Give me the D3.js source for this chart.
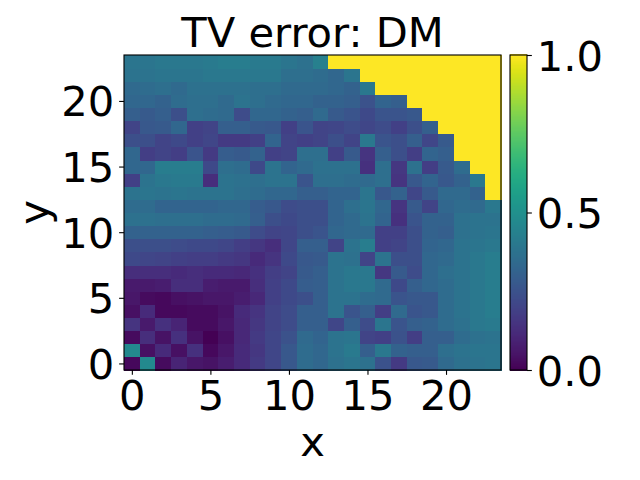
<!DOCTYPE html>
<html><head><meta charset="utf-8">
<script src="https://cdnjs.cloudflare.com/ajax/libs/d3/7.8.5/d3.min.js"></script>
<style>html,body{margin:0;padding:0;background:#fff}svg{display:block}text{font-family:"DejaVu Sans";fill:#000}</style>
</head><body><svg id="c" width="640" height="480"></svg>
<script>
const titleText = "TV error: DM";
const xLabel = "x", yLabel = "y";
const xTicks = [0,5,10,15,20];
const yTicks = [0,5,10,15,20];
const cbTicks = [0,0.5,1];
// rows listed from y = 0 upward, 24 values per row (x = 0..23)
const row0  = [.02,.47,.03,.10,.06,.05,.08,.12,.17,.21,.27,.35,.33,.37,.39,.37,.25,.17,.27,.28,.34,.37,.38,.39];
const row1  = [.47,.04,.12,.04,.14,.02,.06,.12,.16,.21,.27,.35,.33,.38,.41,.30,.40,.31,.30,.30,.36,.38,.39,.39];
const row2  = [.03,.13,.05,.14,.05,.00,.04,.11,.17,.21,.25,.34,.32,.38,.39,.20,.19,.25,.18,.30,.30,.35,.37,.38];
const row3  = [.15,.07,.14,.10,.03,.03,.06,.11,.16,.20,.23,.30,.30,.21,.30,.23,.39,.26,.30,.31,.35,.37,.40,.41];
const row4  = [.04,.12,.02,.02,.03,.03,.05,.12,.15,.20,.23,.30,.30,.38,.26,.30,.18,.34,.26,.27,.35,.38,.40,.42];
const row5  = [.06,.03,.02,.04,.05,.06,.06,.08,.11,.19,.22,.24,.30,.38,.38,.35,.34,.26,.27,.27,.35,.38,.40,.42];
const row6  = [.07,.07,.08,.13,.13,.08,.07,.07,.13,.19,.22,.29,.30,.38,.40,.40,.34,.22,.30,.33,.35,.38,.40,.42];
const row7  = [.13,.13,.13,.12,.13,.12,.12,.11,.14,.18,.20,.28,.30,.38,.40,.40,.16,.28,.23,.33,.36,.38,.40,.42];
const row8  = [.22,.21,.20,.19,.18,.18,.17,.16,.12,.15,.22,.27,.28,.38,.37,.20,.38,.24,.24,.33,.34,.38,.40,.42];
const row9  = [.24,.24,.24,.23,.22,.22,.21,.18,.16,.13,.21,.30,.30,.20,.38,.42,.19,.20,.24,.32,.33,.38,.39,.40];
const row10 = [.31,.31,.31,.31,.31,.30,.29,.28,.23,.20,.21,.24,.26,.33,.34,.34,.19,.19,.24,.31,.30,.37,.38,.39];
const row11 = [.37,.37,.36,.36,.36,.35,.35,.34,.30,.24,.22,.24,.24,.32,.34,.38,.32,.14,.26,.31,.31,.37,.38,.38];
const row12 = [.35,.35,.32,.32,.32,.32,.33,.33,.29,.27,.23,.24,.24,.32,.36,.39,.33,.15,.28,.20,.33,.35,.34,.40];
const row13 = [.38,.39,.38,.39,.38,.38,.38,.36,.35,.33,.33,.30,.30,.32,.32,.39,.27,.31,.21,.28,.34,.34,.31,1];
const row14 = [.19,.38,.40,.41,.41,.13,.38,.37,.36,.38,.38,.26,.36,.36,.35,.34,.36,.15,.27,.32,.27,.31,.40,1];
const row15 = [.33,.33,.42,.42,.42,.22,.36,.35,.22,.38,.32,.34,.37,.37,.37,.14,.36,.16,.37,.18,.28,.35,1,1];
const row16 = [.33,.18,.20,.18,.26,.17,.29,.28,.31,.19,.20,.36,.36,.19,.28,.15,.30,.24,.18,.32,.30,1,1,1];
const row17 = [.24,.24,.20,.22,.19,.21,.17,.17,.19,.32,.20,.19,.20,.24,.20,.40,.26,.24,.30,.21,.28,1,1,1];
const row18 = [.20,.27,.28,.33,.19,.20,.30,.30,.28,.27,.19,.26,.20,.21,.23,.21,.23,.19,.24,.30,1,1,1,1];
const row19 = [.30,.28,.30,.24,.36,.35,.34,.23,.33,.33,.31,.30,.34,.28,.26,.22,.26,.26,.27,1,1,1,1,1];
const row20 = [.33,.33,.31,.35,.36,.36,.34,.38,.36,.34,.33,.33,.31,.31,.30,.25,.32,.30,1,1,1,1,1,1];
const row21 = [.34,.35,.36,.34,.37,.37,.37,.37,.36,.36,.34,.34,.34,.33,.31,.40,1,1,1,1,1,1,1,1];
const row22 = [.38,.38,.39,.39,.39,.40,.40,.40,.40,.40,.36,.36,.35,.33,.39,1,1,1,1,1,1,1,1,1];
const row23 = [.39,.39,.40,.40,.40,.41,.42,.42,.41,.41,.39,.37,.43,1,1,1,1,1,1,1,1,1,1,1];
const rows = [row0,row1,row2,row3,row4,row5,row6,row7,row8,row9,row10,row11,row12,row13,row14,row15,row16,row17,row18,row19,row20,row21,row22,row23];

const L=124,R=501,T=55,B=370,CL=510,CR=527;
const FS=41.67, TK=4.86, LW=1.11;
const svg=d3.select("#c");
const x=d3.scaleLinear().domain([-0.5,23.5]).range([L,R]);
const y=d3.scaleLinear().domain([-0.5,23.5]).range([B,T]);
const color=d3.scaleSequential(d3.interpolateViridis).domain([0,1]);
const cells=rows.flatMap((r,j)=>r.map((v,i)=>({i,j,v})));
svg.append("g").attr("shape-rendering","crispEdges").selectAll("rect").data(cells).join("rect")
  .attr("x",d=>x(d.i-.5)).attr("y",d=>y(d.j+.5))
  .attr("width",d=>x(d.i+.5)-x(d.i-.5)+.5).attr("height",d=>y(d.j-.5)-y(d.j+.5)+.5)
  .attr("fill",d=>color(d.v));
svg.append("rect").attr("x",L).attr("y",T).attr("width",R-L).attr("height",B-T)
  .attr("fill","none").attr("stroke","#000").attr("stroke-width",LW);

function style(g){
  g.select(".domain").remove();
  g.selectAll("line").attr("stroke","#000").attr("stroke-width",LW);
  g.selectAll("text").style("font-size",FS+"px").style("font-family","DejaVu Sans").attr("fill","#000");
}
function midDigits(g){ g.selectAll("text").attr("dy","0.36em"); }
svg.append("g").attr("transform",`translate(0,${B})`)
  .call(d3.axisBottom(x).tickValues(xTicks).tickFormat(d3.format("d")).tickSize(TK).tickPadding(5.5)).call(style);
svg.append("g").attr("transform",`translate(${L},0)`)
  .call(d3.axisLeft(y).tickValues(yTicks).tickFormat(d3.format("d")).tickSize(TK).tickPadding(4.9)).call(style).call(midDigits);

// colour bar
const cy=d3.scaleLinear().domain([0,1]).range([B,T]);
const steps=d3.range(0,256).map(d=>d/255);
svg.append("g").attr("shape-rendering","crispEdges").selectAll("rect").data(steps).join("rect")
  .attr("x",CL).attr("width",CR-CL)
  .attr("y",d=>cy(d)-(B-T)/256).attr("height",(B-T)/256+.6).attr("fill",d=>color(d));
svg.append("rect").attr("x",CL).attr("y",T).attr("width",CR-CL).attr("height",B-T)
  .attr("fill","none").attr("stroke","#000").attr("stroke-width",LW);
svg.append("g").attr("transform",`translate(${CR},0)`)
  .call(d3.axisRight(cy).tickValues(cbTicks).tickFormat(d3.format(".1f")).tickSize(TK).tickPadding(4.9)).call(style).call(midDigits);

svg.append("text").attr("x",(L+R)/2).attr("y",47).attr("text-anchor","middle").style("font-size",FS+"px").text(titleText);
svg.append("text").attr("x",(L+R)/2).attr("y",456).attr("text-anchor","middle").style("font-size",FS+"px").text(xLabel);
svg.append("text").attr("transform",`translate(48,${(T+B)/2}) rotate(-90)`).attr("text-anchor","middle").style("font-size",FS+"px").text(yLabel);
</script></body></html>
